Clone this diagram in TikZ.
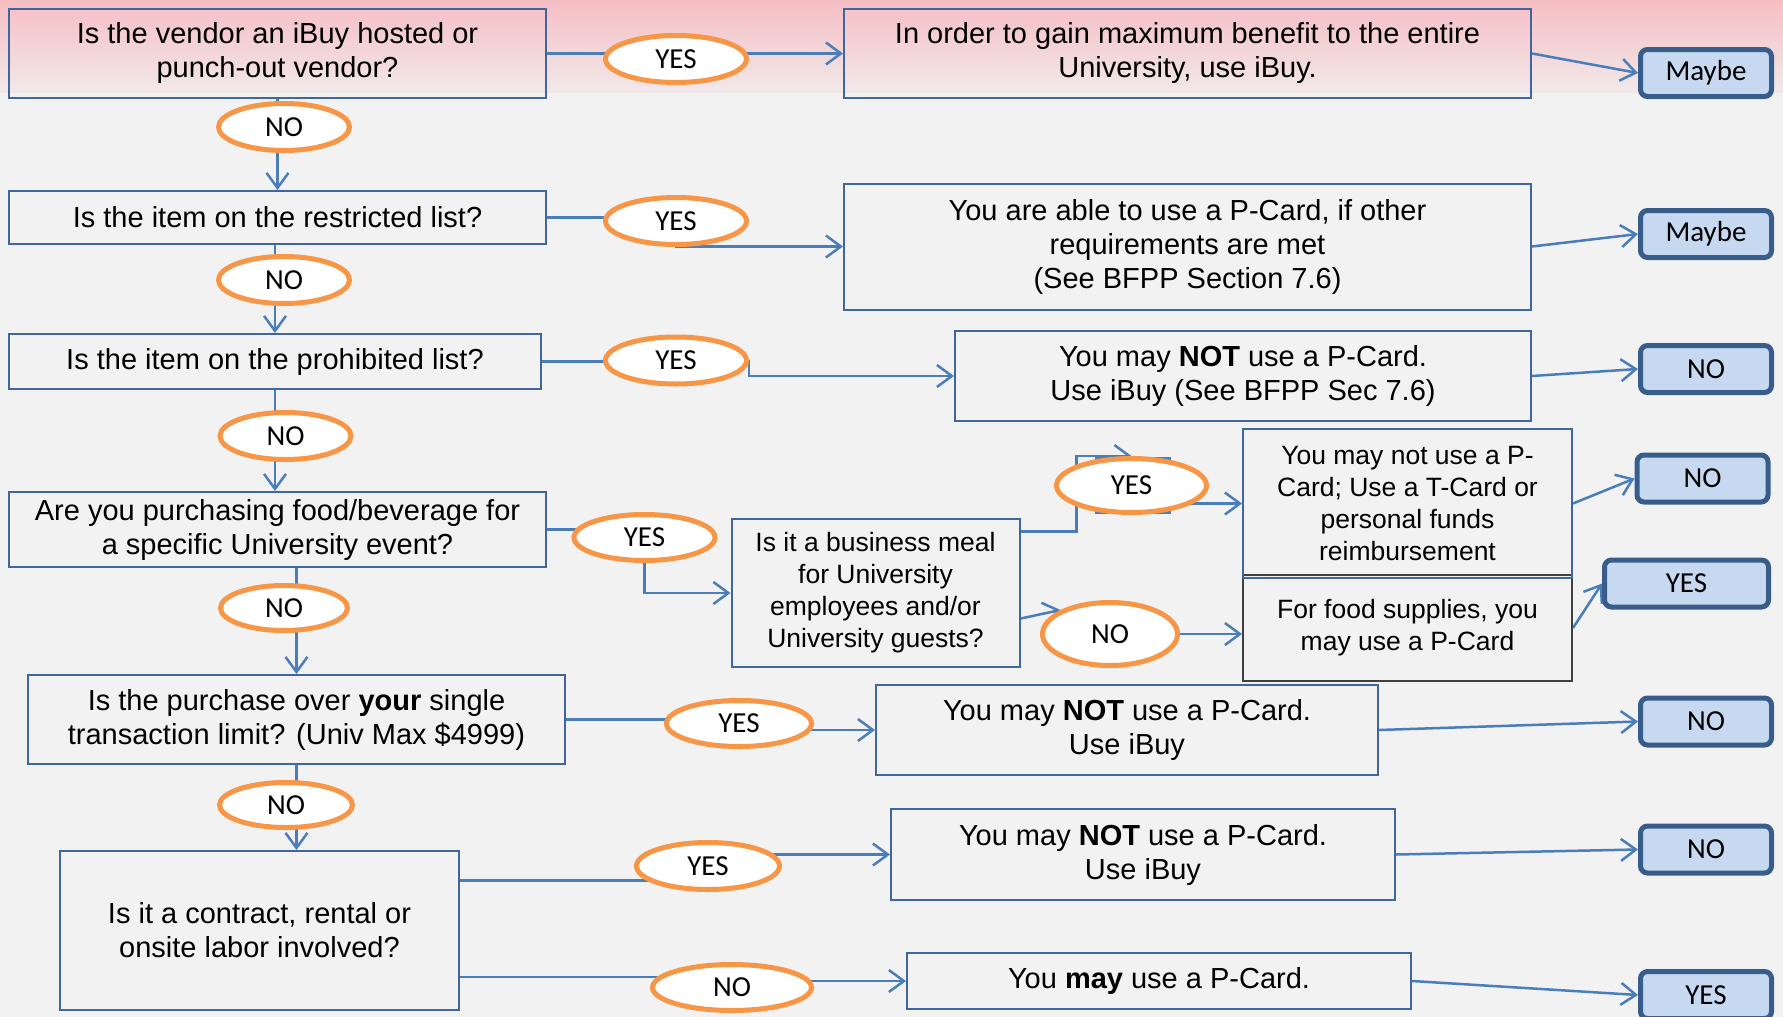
\documentclass[tikz,border=0pt]{standalone}
\usepackage{fontspec}
\setmainfont{Liberation Sans}
\newfontfamily\calibri{Carlito}
\usetikzlibrary{shapes.geometric, arrows.meta, calc}
\pgfdeclarelayer{back}
\pgfdeclarelayer{links}
\pgfsetlayers{back,links,main}
\definecolor{bggray}{HTML}{F2F2F2}
\definecolor{pinktop}{HTML}{F5BEC3}
\definecolor{pinkbot}{HTML}{F2E8E9}
\definecolor{boxline}{HTML}{40669E}
\definecolor{darkline}{HTML}{404040}
\definecolor{linkblue}{HTML}{4A7EBB}
\definecolor{answerorange}{HTML}{F79646}
\definecolor{outline}{HTML}{385D8A}
\definecolor{outfill}{HTML}{C6D9F1}

\begin{document}
\begin{tikzpicture}[x=1pt, y=-1pt,
    box/.style={rectangle, draw=boxline, line width=2pt, inner sep=0pt, align=center, font=\fontsize{29}{34}\selectfont},
    smallbox/.style={box, font=\fontsize{26.5}{32}\selectfont},
    answer/.style={ellipse, draw=answerorange, fill=white, line width=5pt, inner sep=0pt, minimum width=141pt, minimum height=47pt, font=\calibri\fontsize{29}{34}\selectfont},
    outcome/.style={rectangle, rounded corners=7pt, draw=outline, fill=outfill, line width=5pt, inner sep=0pt, minimum width=131pt, minimum height=47pt, font=\calibri\fontsize{29}{34}\selectfont},
    link/.style={line width=2.5pt, draw=linkblue},
    arrow/.style={link, -{Straight Barb[length=15pt, width=22pt]}}
]
    \useasboundingbox (0,0) rectangle (1783,1017);
    \begin{pgfonlayer}{back}
        \fill[bggray] (0,0) rectangle (1783,1017);
        \shade[top color=pinktop, bottom color=pinkbot] (0,0) rectangle (1783,92);
    \end{pgfonlayer}

    % Questions (left column)
    \node[box, minimum width=537pt, minimum height=89pt] (q1) at (277.5,53.5) {Is the vendor an iBuy hosted or\\punch-out vendor?};
    \node[box, minimum width=537pt, minimum height=53pt] (q2) at (277.5,217.5) {Is the item on the restricted list?};
    \node[box, minimum width=532pt, minimum height=55pt] (q3) at (275,361.5) {Is the item on the prohibited list?};
    \node[box, minimum width=537pt, minimum height=75pt] (q4) at (277.5,529.5) {Are you purchasing food/beverage for\\a specific University event?};
    \node[box, minimum width=537pt, minimum height=89pt] (q5) at (296.5,719.5) {Is the purchase over \textbf{your} single\\transaction limit? (Univ Max \$4999)};
    \node[box, minimum width=399pt, minimum height=159pt] (q6) at (259.5,930.5) {Is it a contract, rental or\\onsite labor involved?};
    \node[smallbox, minimum width=288pt, minimum height=148pt] (q7) at (875.5,593) {Is it a business meal\\for University\\employees and/or\\University guests?};

    % Results (middle column)
    \node[box, minimum width=687pt, minimum height=89pt] (r1) at (1187.5,53.5) {In order to gain maximum benefit to the entire\\University, use iBuy.};
    \node[box, minimum width=687pt, minimum height=126pt] (r2) at (1187.5,246.5) {You are able to use a P-Card, if other\\requirements are met\\(See BFPP Section 7.6)};
    \node[box, minimum width=576pt, minimum height=90pt] (r3) at (1243,376) {You may \textbf{NOT} use a P-Card.\\Use iBuy (See BFPP Sec 7.6)};
    \node[smallbox, draw=darkline, minimum width=329pt, minimum height=106pt] (r5) at (1407.5,628) {For food supplies, you\\may use a P-Card};
    \node[smallbox, minimum width=329pt, minimum height=149pt] (r4) at (1407.5,503.5) {You may not use a P-\\Card; Use a T-Card or\\personal funds\\reimbursement};
    \node[box, minimum width=502pt, minimum height=90pt] (r6) at (1127,730) {You may \textbf{NOT} use a P-Card.\\Use iBuy};
    \node[box, minimum width=504pt, minimum height=91pt] (r7) at (1143,854.5) {You may \textbf{NOT} use a P-Card.\\Use iBuy};
    \node[box, minimum width=504pt, minimum height=56pt] (r8) at (1159,981) {You \textbf{may} use a P-Card.};

    % Outcomes (right column)
    \node[outcome] (o1) at (1706,73) {Maybe};
    \node[outcome] (o2) at (1706,234) {Maybe};
    \node[outcome] (o3) at (1706,369) {NO};
    \node[outcome] (o4) at (1702.5,478.5) {NO};
    \node[outcome, minimum width=164pt] (o5) at (1686.5,583.5) {YES};
    \node[outcome] (o6) at (1706,721.5) {NO};
    \node[outcome] (o7) at (1706,849.5) {NO};
    \node[outcome] (o8) at (1706,995) {YES};

    % Answers
    \node[answer] (yes1) at (676,59) {YES};
    \node[answer] (yes2) at (676,221) {YES};
    \node[answer] (yes3) at (676,360.5) {YES};
    \node[answer, minimum height=46pt] (yes4) at (644.5,537.5) {YES};
    \node[answer, minimum width=150pt, minimum height=54pt] (yes5) at (1131.5,485.5) {YES};
    \node[answer, minimum width=145pt, minimum height=46pt] (yes6) at (739,723.5) {YES};
    \node[answer, minimum width=143pt] (yes7) at (708,866) {YES};
    \node[answer, minimum width=131pt] (no1) at (284,127) {NO};
    \node[answer, minimum width=131pt] (no2) at (284,280) {NO};
    \node[answer, minimum width=131pt] (no3) at (285.5,436) {NO};
    \node[answer, minimum width=127pt, minimum height=45pt] (no4) at (284,608) {NO};
    \node[answer, minimum width=135pt, minimum height=63pt] (no5) at (1110,634) {NO};
    \node[answer, minimum width=133pt, minimum height=45pt] (no6) at (286,805) {NO};
    \node[answer, minimum width=159pt, minimum height=46pt] (no7) at (732,987.5) {NO};

    % Connectors
    \begin{pgfonlayer}{links}
        \draw[arrow] (q1.south) -- (q2.north);
        \draw[arrow] (q3.north |- q2.south) -- (q3.north);
        \draw[arrow] (q3.south) -- (q3.south |- q4.north);
        \draw[arrow] (q5.north |- q4.south) -- (q5.north);
        \draw[arrow] (q5.south) -- (q5.south |- q6.north);

        \draw[arrow] (q1.east) -- (r1.west);
        \draw[arrow] (q2.east) -- (q2.east -| yes2) |- (r2.west);
        \draw[arrow] (q3.east) -- (q3.east -| yes3.east) |- (r3.west);
        \draw[arrow] (q4.east) -- (q4.east -| yes4) |- (q7.west);
        \draw[arrow] (q5.east) -- (q5.east -| yes6) |- (r6.west);
        \draw[arrow] (q6.14) -- (q6.14 -| yes7) |- (r7.west);
        \draw[arrow] (q6.-13) -- (q6.-13 -| no7) |- (r8.west);

        \draw[arrow] (q7.23) -| (yes5.north west) |- (yes5.north);
        \draw[link] ($(yes5)+(-35,-27)$) rectangle ($(yes5)+(38,27)$);
        \draw[arrow] (r4.west -| yes5) -- (r4.west);
        \draw[arrow] (q7.-10) -- (no5.north west);
        \draw[arrow] (no5.east) -- (no5.east -| r5.west);

        \draw[arrow] (r1.east) -- (o1.west);
        \draw[arrow] (r2.east) -- (o2.west);
        \draw[arrow] (r3.east) -- (o3.west);
        \draw[arrow] (r4.east) -- (o4.west);
        \draw[arrow] (r5.east) -- (o5.west);
        \draw[arrow] (r6.east) -- (o6.west);
        \draw[arrow] (r7.east) -- (o7.west);
        \draw[arrow] (r8.east) -- (o8.west);
    \end{pgfonlayer}
\end{tikzpicture}
\end{document}
